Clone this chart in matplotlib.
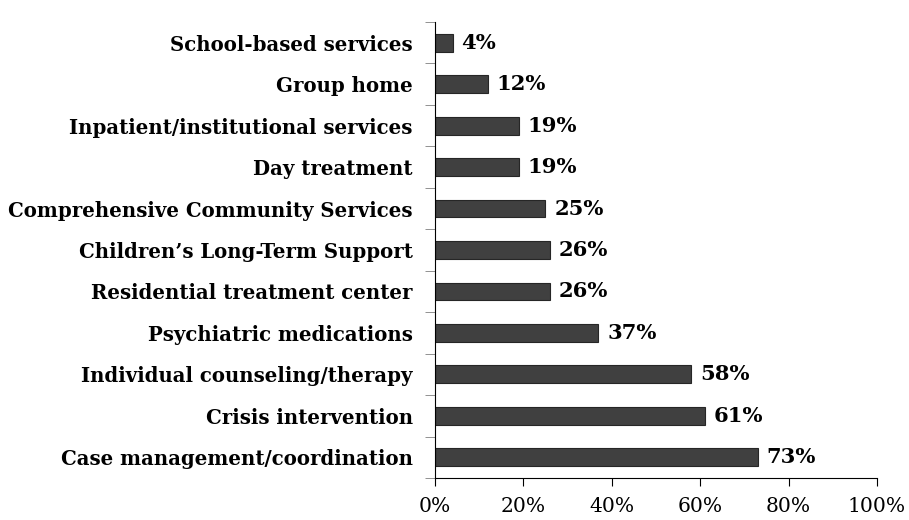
import matplotlib
matplotlib.use('Agg')
import matplotlib.pyplot as plt
import numpy as np

plt.rcParams['font.family'] = ['DejaVu Serif']

categories = ['Case management/coordination', 'Crisis intervention', 'Individual counseling/therapy',
              'Psychiatric medications', 'Residential treatment center', 'Children\u2019s Long-Term Support',
              'Comprehensive Community Services', 'Day treatment', 'Inpatient/institutional services',
              'Group home', 'School-based services']
values = [73, 61, 58, 37, 26, 26, 25, 19, 19, 12, 4]
xticks = [0, 20, 40, 60, 80, 100]

fig = plt.figure(figsize=(9.09, 5.2), dpi=100)
ax = fig.add_axes([0.4785, 0.0808, 0.4862, 0.8769])

y = np.arange(len(categories))
ax.barh(y, values, height=0.43, color='#404040', edgecolor='#262626', linewidth=0.8)
for yi, v in zip(y, values):
    ax.text(v + 2.0, yi, f'{v}%', va='center', ha='left', fontsize=15.2, fontweight='bold')

ax.set_xlim(0, 100)
ax.set_ylim(-0.5, len(categories) - 0.5)
ax.set_xticks(xticks)
ax.set_xticklabels([f'{t}%' for t in xticks], fontsize=14.6)
ax.set_yticks(y)
ax.set_yticklabels(categories, fontsize=14.2, fontweight='bold')
ax.tick_params(axis='y', length=0, pad=16)
ax.set_yticks(np.arange(-0.5, len(categories), 1), minor=True)
ax.tick_params(axis='y', which='minor', length=7, color='#808080', direction='out')
ax.tick_params(axis='x', length=6, direction='out', pad=8)

for s in ['top', 'right']:
    ax.spines[s].set_visible(False)

fig.savefig('out.png', dpi=100)
